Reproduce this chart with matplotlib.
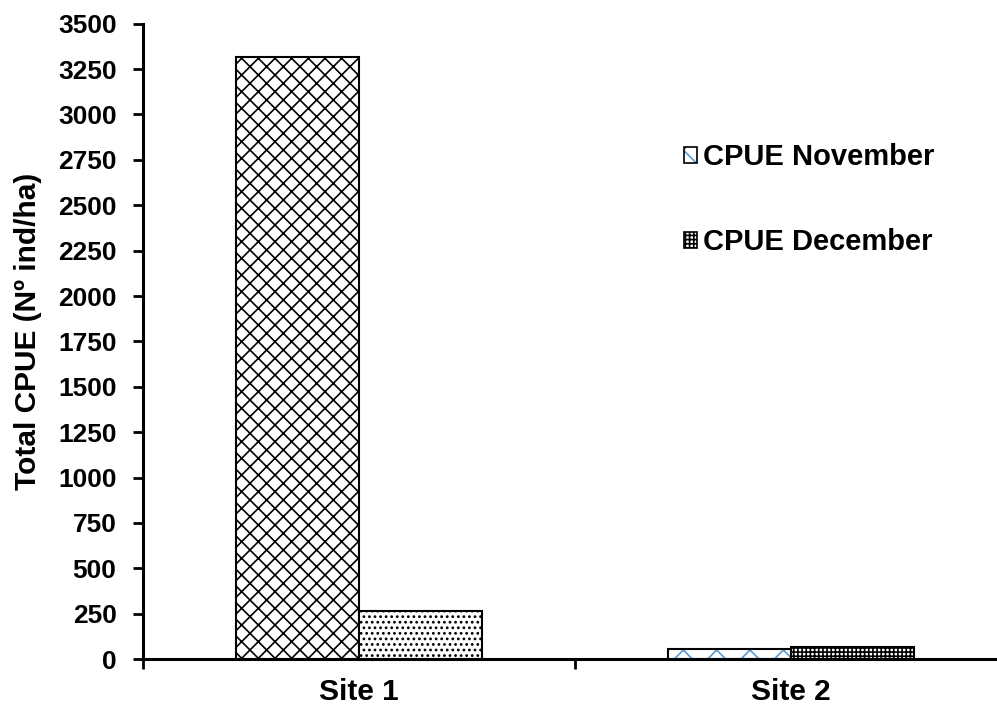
import matplotlib
matplotlib.use('Agg')
import matplotlib.pyplot as plt
from matplotlib.patches import Patch
import numpy as np

sites = ['Site 1', 'Site 2']
cpue_november = [3315, 55]
cpue_december = [267, 64]
series_labels = ['CPUE November', 'CPUE December']
y_ticks = list(range(0, 3501, 250))

plt.rcParams['font.family'] = ['Liberation Sans', 'DejaVu Sans']
plt.rcParams['font.weight'] = 'bold'
plt.rcParams['hatch.linewidth'] = 1.2

fig = plt.figure(figsize=(9.97, 7.13), dpi=100)
ax = fig.add_axes([0.1434, 0.0757, 0.8666, 0.891])

x = np.arange(len(sites))
w = 0.285
blue = '#5b9bd5'

# site 1 bars carry their own fill patterns
ax.bar(x[0] - w / 2, cpue_november[0], w, color='white', edgecolor='black',
       hatch='xx', linewidth=1.5, zorder=2)
ax.bar(x[0] + w / 2, cpue_december[0], w, color='white', edgecolor='black',
       hatch='...', linewidth=1.5, zorder=2)

# site 2: blue pattern for november, dark pattern for december
ax.bar(x[1] - w / 2, cpue_november[1], w, color='white', edgecolor=blue,
       hatch='x', linewidth=0, zorder=2)
ax.bar(x[1] - w / 2, cpue_november[1], w, fill=False, edgecolor='black',
       linewidth=1.5, zorder=3)
ax.bar(x[1] + w / 2, cpue_december[1], w, color='white', edgecolor='black',
       hatch='++++', linewidth=1.5, zorder=2)

ax.set_xlim(-0.5, 1.5)
ax.set_ylim(0, 3500)
ax.set_yticks(y_ticks)
ax.set_xticks(x)
ax.set_xticklabels(sites, fontsize=21.5, fontweight='bold')
ax.set_xticks([-0.5, 0.5, 1.5], minor=True)
ax.tick_params(axis='x', which='major', length=0, pad=14)
ax.tick_params(axis='x', which='minor', length=7, width=2, direction='out')
ax.tick_params(axis='y', length=7, width=2, direction='out', pad=12, labelsize=19)
for lab in ax.get_yticklabels():
    lab.set_fontweight('bold')

for s in ['top', 'right']:
    ax.spines[s].set_visible(False)
for s in ['left', 'bottom']:
    ax.spines[s].set_linewidth(2.2)

ax.set_ylabel('Total CPUE (Nº ind/ha)', fontsize=21.5, fontweight='bold')
ax.yaxis.set_label_coords(-0.117, 0.515)

nov_handle = (Patch(facecolor='white', edgecolor=blue, hatch='x', linewidth=0),
              Patch(fill=False, edgecolor='black', linewidth=1.2))
dec_handle = Patch(facecolor='white', edgecolor='black', hatch='++++', linewidth=1.2)
leg = ax.legend([nov_handle, dec_handle], series_labels, loc='upper left',
                bbox_to_anchor=(0.686, 0.799), bbox_transform=fig.transFigure,
                frameon=False, borderpad=0, borderaxespad=0,
                handlelength=0.45, handleheight=0.45, handletextpad=0.2,
                labelspacing=1.95, prop={'size': 21, 'weight': 'bold'})

fig.savefig('out.png', dpi=100)
